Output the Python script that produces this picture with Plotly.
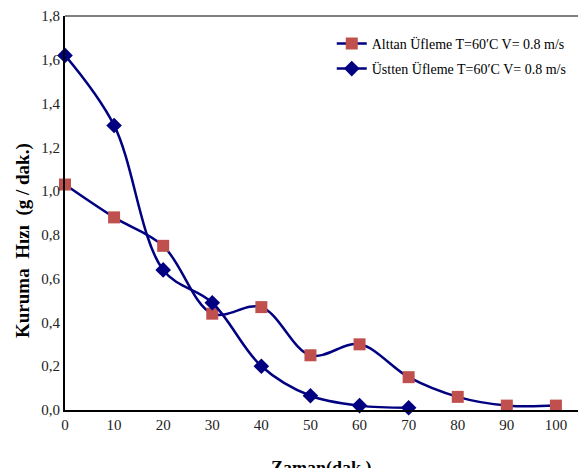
import plotly.graph_objects as go

# Drying time (minutes)
zaman_alttan = [0, 10, 20, 30, 40, 50, 60, 70, 80, 90, 100]
zaman_ustten = [0, 10, 20, 30, 40, 50, 60, 70]

# Drying rate (g / min)
hiz_alttan = [1.03, 0.88, 0.75, 0.44, 0.47, 0.25, 0.30, 0.15, 0.06, 0.02, 0.02]
hiz_ustten = [1.62, 1.30, 0.64, 0.49, 0.20, 0.065, 0.02, 0.01]

x_ticks = list(range(0, 101, 10))
y_ticks = [round(0.2 * i, 1) for i in range(10)]

serif = "Liberation Serif"
navy = "#000080"
red = "#C0504D"

fig = go.Figure()
fig.add_trace(go.Scatter(
    x=zaman_alttan, y=hiz_alttan, mode="lines+markers",
    name="Alttan Üfleme T=60′C V= 0.8 m/s", legendgroup="a",
    line=dict(color=navy, width=2.5, shape="spline", smoothing=1.0),
    marker=dict(symbol="square", size=12, color=red),
    cliponaxis=False,
))
fig.add_trace(go.Scatter(
    x=zaman_ustten, y=hiz_ustten, mode="lines+markers",
    name="Üstten Üfleme T=60′C V= 0.8 m/s", legendgroup="b",
    line=dict(color=navy, width=2.5, shape="spline", smoothing=1.0),
    marker=dict(symbol="diamond", size=12, color=navy),
    cliponaxis=False,
))

fig.update_layout(
    width=578, height=468,
    margin=dict(l=65, r=0, t=16, b=58),
    paper_bgcolor="white", plot_bgcolor="white",
    separators=",.",
    font=dict(family=serif, size=14, color="#222222"),
    showlegend=True,
    legend=dict(
        x=0.52, y=0.97, xanchor="left", yanchor="top",
        bgcolor="rgba(0,0,0,0)", font=dict(family=serif, size=14, color="#000000"),
        itemwidth=30, tracegroupgap=4,
    ),
    xaxis=dict(
        range=[0, 104.5], tickvals=x_ticks, ticks="", showgrid=False, zeroline=False,
        showline=True, linecolor="#000000", linewidth=2, automargin=False,
        tickfont=dict(family=serif, size=15, color="#222222"),
    ),
    yaxis=dict(
        range=[0, 1.8], tickvals=y_ticks, tickformat=".1f", ticks="", showgrid=False, zeroline=False,
        showline=True, linecolor="#000000", linewidth=2, automargin=False,
        tickfont=dict(family=serif, size=15, color="#222222"),
    ),
    shapes=[dict(type="line", xref="paper", yref="paper", x0=0, x1=1, y0=1, y1=1,
                 line=dict(color="#808080", width=2))],
    annotations=[
        dict(
            text="<b>Kuruma  Hızı  (g / dak.)</b>", xref="paper", yref="paper",
            x=-0.083, y=0.43, xanchor="center", yanchor="middle", textangle=-90,
            showarrow=False, font=dict(family=serif, size=19, color="#000000"),
        ),
        dict(
            text="<b>Zaman(dak.)</b>", xref="paper", yref="paper",
            x=0.5, y=-0.118, xanchor="center", yanchor="top",
            showarrow=False, font=dict(family=serif, size=18, color="#000000"),
        ),
    ],
)

fig.write_html("out.html")
